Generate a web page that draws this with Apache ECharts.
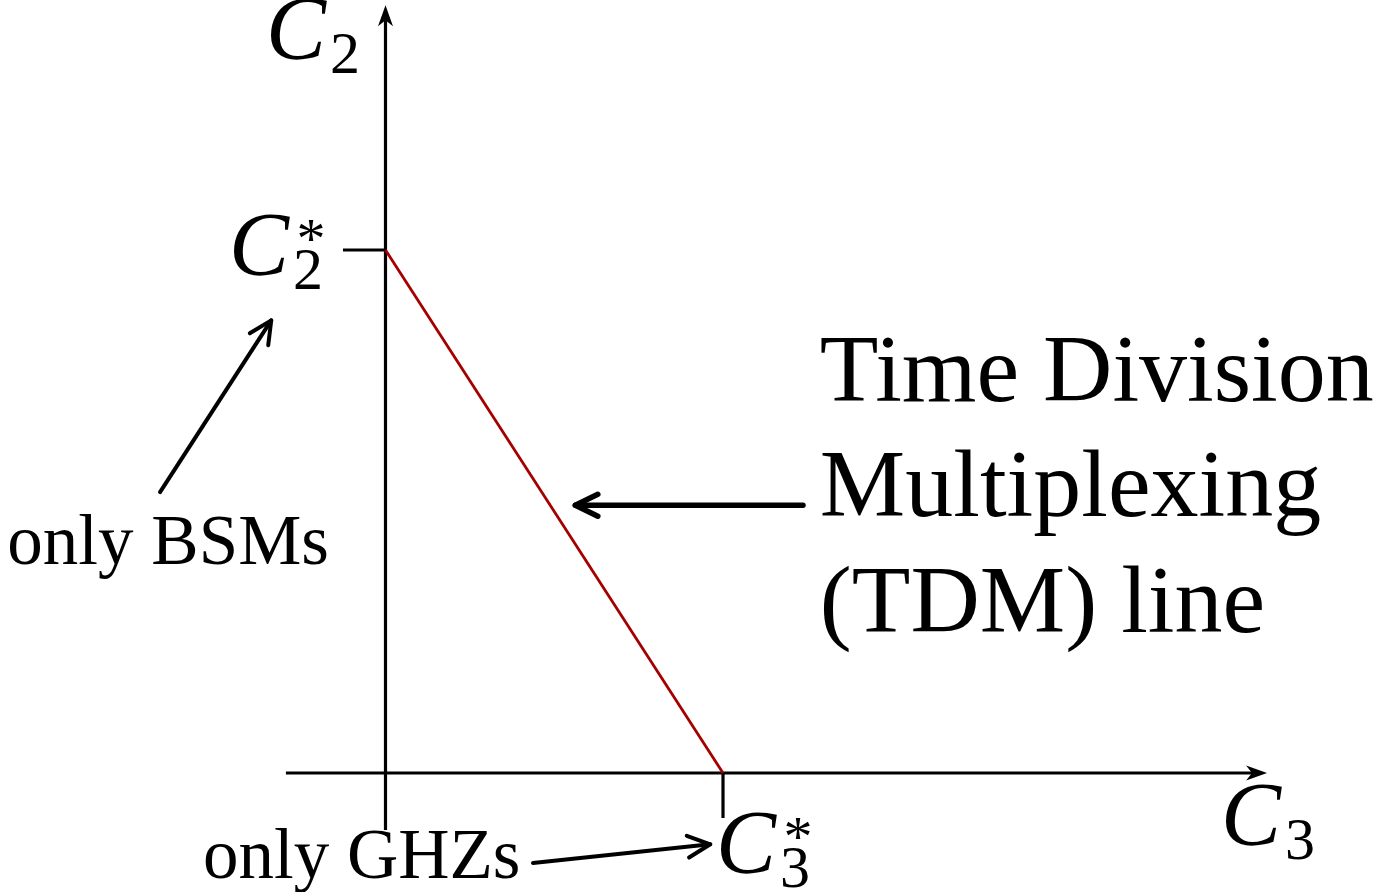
<!DOCTYPE html>
<html>
<head>
<meta charset="utf-8">
<title>TDM line</title>
<script src="https://cdn.jsdelivr.net/npm/echarts@6.0.0/dist/echarts.min.js"></script>
<style>
  html, body { margin: 0; padding: 0; background: #fff; }
  #main { width: 1384px; height: 892px; }
</style>
</head>
<body>
<div id="main"></div>
<script>
// values are normalised: C3* = 1 on the C3 axis, C2* = 1 on the C2 axis
var tdmLine = [[0, 1], [1, 0]];                       // (C3, C2) end points of the TDM line
var axisSegs = [[-0.295, 0, 2.612, 0], [0, -0.109, 0, 1.468]];
var tickSegs = [[-0.126, 1, 0, 1], [1, 0, 1, -0.086]];
var pointerSegs = [[-0.668, 0.537, -0.336, 0.868], [0.437, -0.172, 0.967, -0.136]];
var tdmPointer = [[1.237, 0.512, 0.556, 0.512]];

// axis / tick labels (math)
var mathSub = ['2', '2', '3', '3'];
var mathStar = [false, true, false, true];
var mathPos = [[-0.336, 1.411], [-0.446, 0.998], [2.493, -0.092], [0.997, -0.145]];

// plain text notes
var noteText = ['only BSMs', 'only GHZs', 'Time Division', 'Multiplexing', '(TDM) line'];
var notePos = [[-0.644, 0.435], [-0.541, -0.166], [1.287, 0.760], [1.287, 0.540], [1.287, 0.317]];

// visible window of the plane
var X_MIN = -1.1422, X_MAX = 2.9585, Y_MIN = -0.2275, Y_MAX = 1.478;

var serif = '"Liberation Serif", "DejaVu Serif", serif';

function unit(p1, p2) {
    var dx = p2[0] - p1[0], dy = p2[1] - p1[1];
    var l = Math.sqrt(dx * dx + dy * dy);
    return [dx / l, dy / l];
}

// kind: 'stealth' (axis arrows), 'open' (pointer arrows), 'none'
function segRenderer(kind, width) {
    return function (params, api) {
        var p1 = api.coord([api.value(0), api.value(1)]);
        var p2 = api.coord([api.value(2), api.value(3)]);
        var u = unit(p1, p2);
        var n = [-u[1], u[0]];
        var children = [];
        var end = p2;
        if (kind === 'stealth') {
            var L = 21, W = 7.5, notch = 6;
            var back = [p2[0] - L * u[0], p2[1] - L * u[1]];
            end = [p2[0] - (L - notch) * u[0], p2[1] - (L - notch) * u[1]];
            children.push({
                type: 'polygon',
                shape: { points: [p2, [back[0] + W * n[0], back[1] + W * n[1]], end, [back[0] - W * n[0], back[1] - W * n[1]]] },
                style: { fill: '#000' }
            });
        } else if (kind === 'open') {
            var len = 25, ang = 26 * Math.PI / 180;
            var c = Math.cos(ang), s = Math.sin(ang);
            var bx = -u[0], by = -u[1];
            var a1 = [bx * c - by * s, bx * s + by * c];
            var a2 = [bx * c + by * s, -bx * s + by * c];
            var tip = [p2[0] - u[0] * width * 0.4, p2[1] - u[1] * width * 0.4];
            end = tip;
            children.push({
                type: 'polyline',
                shape: { points: [[tip[0] + a1[0] * len, tip[1] + a1[1] * len], tip, [tip[0] + a2[0] * len, tip[1] + a2[1] * len]] },
                style: { stroke: '#000', lineWidth: width, fill: null, lineCap: 'round', lineJoin: 'round' }
            });
        }
        children.unshift({
            type: 'line',
            shape: { x1: p1[0], y1: p1[1], x2: end[0], y2: end[1] },
            style: { stroke: '#000', lineWidth: width, lineCap: kind === 'open' ? 'round' : 'butt' }
        });
        return { type: 'group', children: children };
    };
}

function segSeries(data, kind, width) {
    return {
        type: 'custom',
        data: data,
        encode: { x: [0, 2], y: [1, 3] },
        renderItem: segRenderer(kind, width),
        silent: true
    };
}

var myChart = echarts.init(document.getElementById('main'));
var option = {
    backgroundColor: '#fff',
    animation: false,
    grid: { left: 0, right: 0, top: 0, bottom: 0 },
    xAxis: { type: 'value', min: X_MIN, max: X_MAX, show: false },
    yAxis: { type: 'value', min: Y_MIN, max: Y_MAX, show: false },
    series: [
        segSeries(axisSegs, 'stealth', 3.2),
        segSeries(tickSegs, 'none', 3.2),
        {
            name: 'TDM line',
            type: 'line',
            data: tdmLine,
            symbol: 'none',
            lineStyle: { color: '#a50000', width: 2.8 },
            silent: true
        },
        segSeries(pointerSegs, 'open', 4),
        segSeries(tdmPointer, 'open', 5.5),
        {
            type: 'custom',
            data: mathPos,
            renderItem: function (params, api) {
                var i = params.dataIndex;
                var p = api.coord([api.value(0), api.value(1)]);
                var kids = [
                    { type: 'text', style: { text: 'C', x: p[0] - 6, y: p[1], font: 'italic 90px ' + serif, fill: '#000', align: 'left', verticalAlign: 'middle' } },
                    { type: 'text', style: { text: mathSub[i], x: p[0] + 58, y: p[1] + 22, font: '60px ' + serif, fill: '#000', align: 'left', verticalAlign: 'middle' } }
                ];
                if (mathStar[i]) {
                    kids.push({ type: 'text', style: { text: '*', x: p[0] + 76, y: p[1] - 8, font: '58px ' + serif, fill: '#000', align: 'center', verticalAlign: 'middle' } });
                }
                return { type: 'group', children: kids };
            },
            silent: true
        },
        {
            type: 'custom',
            data: notePos,
            renderItem: function (params, api) {
                var i = params.dataIndex;
                var p = api.coord([api.value(0), api.value(1)]);
                var big = i >= 2;
                return {
                    type: 'text',
                    style: {
                        text: noteText[i], x: p[0], y: p[1],
                        font: (big ? 96 : 71) + 'px ' + serif,
                        fill: '#000',
                        align: i === 0 ? 'center' : 'left',
                        verticalAlign: 'middle'
                    }
                };
            },
            silent: true
        }
    ]
};
myChart.setOption(option);
</script>
</body>
</html>
